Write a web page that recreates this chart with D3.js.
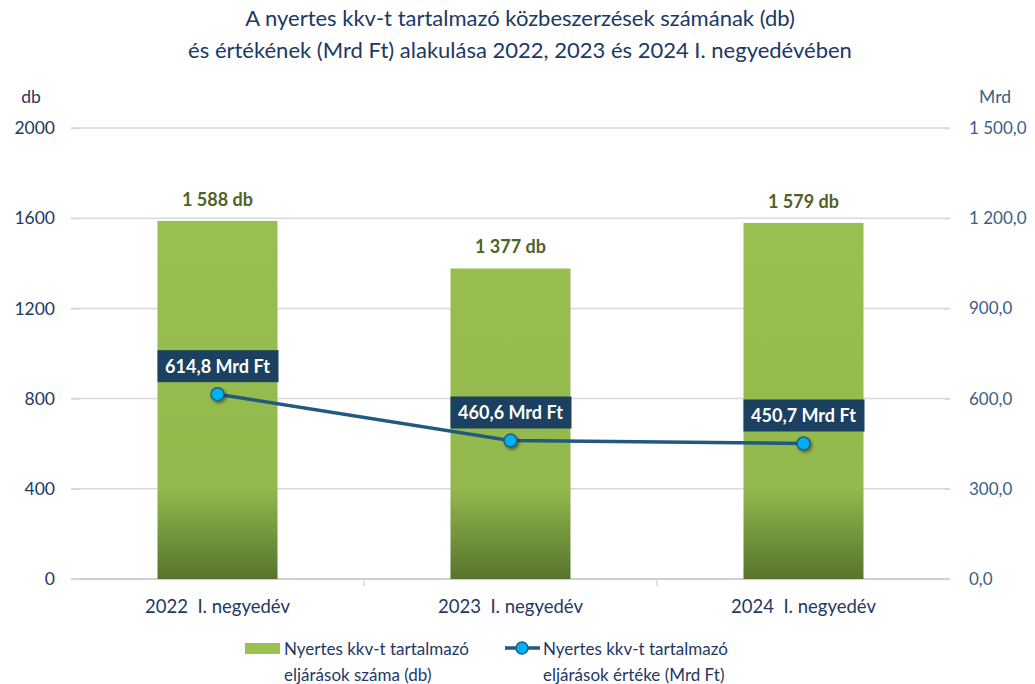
<!DOCTYPE html>
<html>
<head>
<meta charset="utf-8">
<script src="https://cdn.jsdelivr.net/npm/d3@7"></script>
<style>
  body { margin: 0; background: #fff; }
  svg { font-family: Lato, "Open Sans", sans-serif; }
</style>
</head>
<body>
<svg id="chart" width="1035" height="684"></svg>
<script>
// data
const categories = ["2022  I. negyedév", "2023  I. negyedév", "2024  I. negyedév"];
const counts = [1588, 1377, 1579];
const values = [614.8, 460.6, 450.7];
const leftTicks = [0, 400, 800, 1200, 1600, 2000];
const rightTicks = [0, 300, 600, 900, 1200, 1500];
const countLabels = ["1 588 db", "1 377 db", "1 579 db"];
const valueLabels = ["614,8 Mrd Ft", "460,6 Mrd Ft", "450,7 Mrd Ft"];

const width = 1035, height = 684;
const margin = { top: 128, right: 85, bottom: 105, left: 71 };
const svg = d3.select("#chart");

const x = d3.scaleBand().domain(categories)
    .range([margin.left, width - margin.right]).paddingInner(0).paddingOuter(0);
const yL = d3.scaleLinear().domain([0, 2000]).range([height - margin.bottom, margin.top]);
const yR = d3.scaleLinear().domain([0, 1500]).range([height - margin.bottom, margin.top]);

const defs = svg.append("defs");
const grad = defs.append("linearGradient").attr("id", "barGrad")
    .attr("gradientUnits", "userSpaceOnUse")
    .attr("x1", 0).attr("x2", 0).attr("y1", yL(2000)).attr("y2", yL(0));
grad.append("stop").attr("offset", "0%").attr("stop-color", "#9bc152");
grad.append("stop").attr("offset", "80%").attr("stop-color", "#93b84d");
grad.append("stop").attr("offset", "100%").attr("stop-color", "#56742c");

const shadow = defs.append("filter").attr("id", "shadow").attr("x", "-50%").attr("y", "-50%")
    .attr("width", "200%").attr("height", "200%");
shadow.append("feDropShadow").attr("dx", 1.5).attr("dy", 2).attr("stdDeviation", 1.5)
    .attr("flood-color", "#000").attr("flood-opacity", 0.45);

// title
svg.append("text").attr("x", 520).attr("y", 26).attr("text-anchor", "middle")
    .attr("fill", "#203864").attr("font-size", 22)
    .text("A nyertes kkv-t tartalmazó közbeszerzések számának (db)");
svg.append("text").attr("x", 520).attr("y", 58).attr("text-anchor", "middle")
    .attr("fill", "#203864").attr("font-size", 22)
    .text("és értékének (Mrd Ft) alakulása 2022, 2023 és 2024 I. negyedévében");

// gridlines
svg.append("g").selectAll("line").data(leftTicks).join("line")
    .attr("x1", margin.left).attr("x2", width - margin.right)
    .attr("y1", d => yL(d)).attr("y2", d => yL(d))
    .attr("stroke", d => d === 0 ? "#bfbfbf" : "#d9d9d9").attr("stroke-width", 1.5);

// left axis
const axL = svg.append("g").attr("transform", `translate(${margin.left + 9},0)`)
    .call(d3.axisLeft(yL).tickValues(leftTicks).tickSize(9).tickPadding(16).tickFormat(d3.format("d")));
axL.select(".domain").remove();
axL.selectAll(".tick line").attr("stroke", "#d9d9d9").attr("stroke-width", 1.5);
axL.selectAll(".tick text").attr("fill", "#1f3864").attr("font-size", 17.5).attr("font-family", "Lato, sans-serif");

// right axis
const fmtR = d => d3.format(",.1f")(d).replace(/,/g, " ").replace(".", ",");
const axR = svg.append("g").attr("transform", `translate(${width - margin.right - 6},0)`)
    .call(d3.axisRight(yR).tickValues(rightTicks).tickSize(6).tickPadding(19).tickFormat(fmtR));
axR.select(".domain").remove();
axR.selectAll(".tick line").attr("stroke", "#d9d9d9").attr("stroke-width", 1.5);
axR.selectAll(".tick text").attr("fill", "#3a5f85").attr("font-size", 17).attr("font-family", "Lato, sans-serif");

svg.append("text").attr("x", 31).attr("y", 103).attr("text-anchor", "middle")
    .attr("fill", "#1f3864").attr("font-size", 17.5).text("db");
svg.append("text").attr("x", 995).attr("y", 103).attr("text-anchor", "middle")
    .attr("fill", "#3a5f85").attr("font-size", 17.5).text("Mrd");

// category separators
svg.append("g").selectAll("line").data(categories.slice(1)).join("line")
    .attr("x1", d => x(d)).attr("x2", d => x(d))
    .attr("y1", yL(0)).attr("y2", yL(0) + 7)
    .attr("stroke", "#d9d9d9").attr("stroke-width", 1.5);

// x labels
svg.append("g").selectAll("text").data(categories).join("text")
    .attr("x", d => x(d) + x.bandwidth() / 2).attr("y", 613)
    .attr("text-anchor", "middle").attr("fill", "#1f3864").attr("font-size", 18.5)
    .attr("xml:space", "preserve").style("white-space", "pre")
    .text(d => d);

// bars
const barW = 120;
svg.append("g").selectAll("rect").data(counts).join("rect")
    .attr("x", (d, i) => x(categories[i]) + x.bandwidth() / 2 - barW / 2)
    .attr("width", barW)
    .attr("y", d => yL(d)).attr("height", d => yL(0) - yL(d))
    .attr("fill", "url(#barGrad)");

svg.append("g").selectAll("text").data(counts).join("text")
    .attr("x", (d, i) => x(categories[i]) + x.bandwidth() / 2)
    .attr("y", d => yL(d) - 15)
    .attr("text-anchor", "middle").attr("fill", "#4f6228")
    .attr("font-size", 18).attr("font-weight", "bold")
    .text((d, i) => countLabels[i]);

// line
const pts = values.map((v, i) => [x(categories[i]) + x.bandwidth() / 2, yR(v)]);
svg.append("path").datum(pts)
    .attr("d", d3.line())
    .attr("fill", "none").attr("stroke", "#205a7e").attr("stroke-width", 3.5);

svg.append("g").selectAll("circle").data(pts).join("circle")
    .attr("cx", d => d[0]).attr("cy", d => d[1]).attr("r", 6.5)
    .attr("fill", "#00b0f0").attr("stroke", "#1f5f86").attr("stroke-width", 1.5)
    .attr("filter", "url(#shadow)");

// value labels
const lab = svg.append("g").selectAll("g").data(pts).join("g")
    .attr("transform", d => `translate(${d[0]},${d[1] - 28})`);
lab.append("rect").attr("x", -60).attr("y", -16).attr("width", 121).attr("height", 32)
    .attr("fill", "#1b4060");
lab.append("text").attr("x", 0).attr("y", 6.5).attr("text-anchor", "middle")
    .attr("fill", "#fff").attr("font-size", 18).attr("font-weight", "bold")
    .text((d, i) => valueLabels[i]);

// legend
const lg = svg.append("g");
lg.append("rect").attr("x", 245).attr("y", 643).attr("width", 35).attr("height", 11).attr("fill", "#9bc152");
lg.append("text").attr("x", 284).attr("y", 655).attr("fill", "#1f3864").attr("font-size", 17)
    .text("Nyertes kkv-t tartalmazó");
lg.append("text").attr("x", 284).attr("y", 681).attr("fill", "#1f3864").attr("font-size", 17)
    .text("eljárások száma (db)");
lg.append("line").attr("x1", 505).attr("x2", 540).attr("y1", 648).attr("y2", 648)
    .attr("stroke", "#205a7e").attr("stroke-width", 3.5);
lg.append("circle").attr("cx", 522).attr("cy", 648).attr("r", 6)
    .attr("fill", "#00b0f0").attr("stroke", "#1f5f86").attr("stroke-width", 1.5);
lg.append("text").attr("x", 543).attr("y", 655).attr("fill", "#1f3864").attr("font-size", 17)
    .text("Nyertes kkv-t tartalmazó");
lg.append("text").attr("x", 543).attr("y", 681).attr("fill", "#1f3864").attr("font-size", 17)
    .text("eljárások értéke (Mrd Ft)");
</script>
</body>
</html>
